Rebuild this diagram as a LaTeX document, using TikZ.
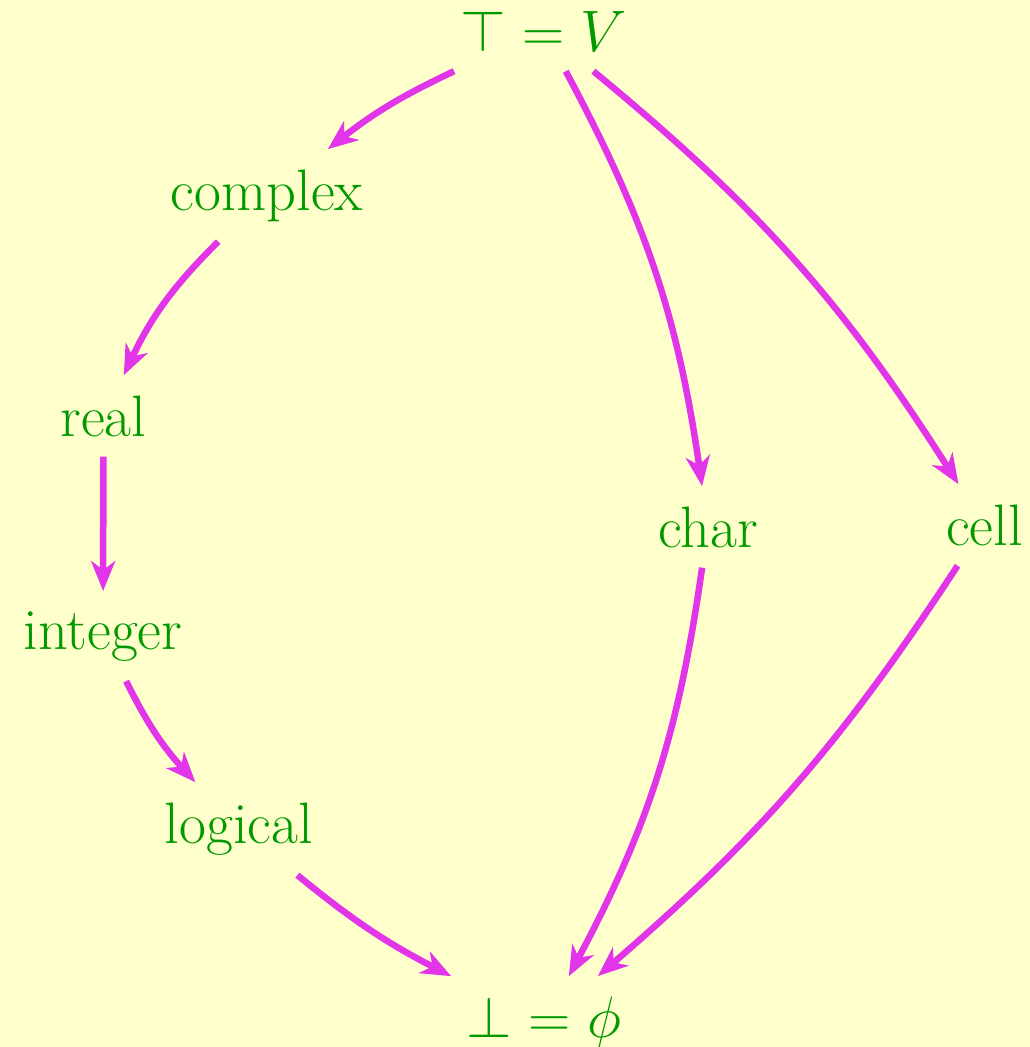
\RequirePackage{fix-cm}
\documentclass[tikz,border=0pt]{standalone}
\usetikzlibrary{arrows.meta}
\definecolor{bg}{RGB}{255,255,204}
\definecolor{lbl}{RGB}{0,153,0}
\definecolor{arr}{RGB}{226,52,232}
\begin{document}
\begin{tikzpicture}[x=1pt,y=1pt,
  lab/.style={text=lbl,font=\fontsize{58.5}{64}\selectfont,anchor=base,inner sep=20pt},
  edge/.style={draw=arr,line width=6.5pt,-{Stealth[length=30pt,width=24pt,inset=9pt]}}]
\fill[bg] (0,0) rectangle (1030,-1047);
\useasboundingbox (0,0) rectangle (1030,-1047);
\node[lab] (top) at (544,-51) {$\top=V$};
\node[lab] (complex) at (267,-210) {complex};
\node[lab] (real) at (103.5,-436) {real};
\node[lab] (integer) at (103,-649) {integer};
\node[lab] (logical) at (239,-843) {logical};
\node[lab] (char) at (708,-547) {char};
\node[lab] (cell) at (984.5,-545) {cell};
\node[lab] (bot) at (544,-1037) {$\bot=\phi$};
\draw[edge] (top) to[bend right=6.5] (complex);
\draw[edge] (complex) to[bend right=10] (real);
\draw[edge] (real) -- (integer);
\draw[edge] (integer) to[bend right=8] (logical);
\draw[edge] (logical) to[bend right=6] (bot);
\draw[edge] (top) to[bend left=10] (char);
\draw[edge] (top) to[bend left=9] (cell);
\draw[edge] (char) to[bend left=10] (bot);
\draw[edge] (cell) to[bend left=8] (bot);
\end{tikzpicture}
\end{document}
